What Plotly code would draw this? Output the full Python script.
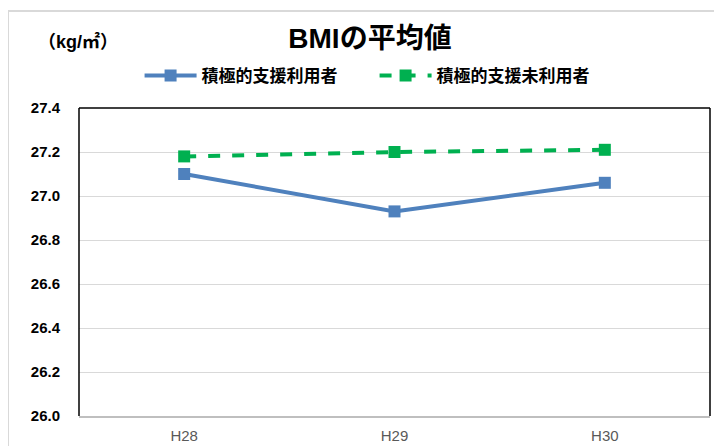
import plotly.graph_objects as go

years = ["H28", "H29", "H30"]
used = [27.10, 26.93, 27.06]
not_used = [27.18, 27.20, 27.21]
y_ticks = [26.0, 26.2, 26.4, 26.6, 26.8, 27.0, 27.2, 27.4]

jp_font = "Liberation Sans, Noto Sans CJK JP"

fig = go.Figure()
fig.add_trace(go.Scatter(
    x=years, y=used, name="積極的支援利用者", mode="lines+markers",
    line=dict(color="#4F81BD", width=4),
    marker=dict(symbol="square", size=12, color="#4F81BD"),
))
fig.add_trace(go.Scatter(
    x=years, y=not_used, name="積極的支援未利用者", mode="lines+markers",
    line=dict(color="#00B050", width=4, dash="dash"),
    marker=dict(symbol="square", size=12, color="#00B050"),
))

# page body keeps an 8px margin, so the figure is 8px smaller each way
fig.update_layout(
    width=714, height=438,
    margin=dict(l=71, r=12, t=100, b=30, autoexpand=False),
    paper_bgcolor="white", plot_bgcolor="white",
    font=dict(family=jp_font, color="black"),
    showlegend=True,
    title=dict(text="BMIの平均値", x=0.507, xanchor="center", y=0.93, yanchor="middle",
               font=dict(family=jp_font, size=28, color="black", weight="bold")),
    legend=dict(orientation="h", x=0.096, xanchor="left", y=1.104, yanchor="middle",
                font=dict(family=jp_font, size=17, color="black", weight="bold"),
                itemwidth=52, tracegroupgap=0, entrywidth=168, entrywidthmode="pixels"),
    xaxis=dict(type="category", range=[-0.5, 2.5], showgrid=False,
               showline=True, linecolor="#BFBFBF", linewidth=2,
               ticks="", ticklabelstandoff=5,
               tickfont=dict(family="Liberation Sans", size=15, color="#595959")),
    yaxis=dict(range=[26.0, 27.4], tickvals=y_ticks, tickformat=".1f",
               showgrid=True, gridcolor="#D9D9D9", gridwidth=1, zeroline=False,
               showline=False, ticks="", ticklabelstandoff=18,
               tickfont=dict(family="Liberation Sans", size=15, color="black", weight="bold")),
    annotations=[dict(text="（kg/㎡）", xref="paper", yref="paper", x=-0.068, y=1.215,
                      xanchor="left", yanchor="middle", showarrow=False,
                      font=dict(family=jp_font, size=18, color="black", weight="bold"))],
    shapes=[
        dict(type="rect", xref="paper", yref="paper", x0=-0.1125, x1=1.05, y0=-0.2, y1=1.315,
             line=dict(color="#D9D9D9", width=2), layer="below"),
        dict(type="line", xref="paper", yref="paper", x0=0, x1=0, y0=0, y1=1,
             line=dict(color="black", width=1.5)),
        dict(type="line", xref="paper", yref="paper", x0=0, x1=1, y0=1, y1=1,
             line=dict(color="black", width=1.5)),
        dict(type="line", xref="paper", yref="paper", x0=1, x1=1, y0=0, y1=1,
             line=dict(color="black", width=1.5)),
    ],
)

fig.write_html("out.html")
